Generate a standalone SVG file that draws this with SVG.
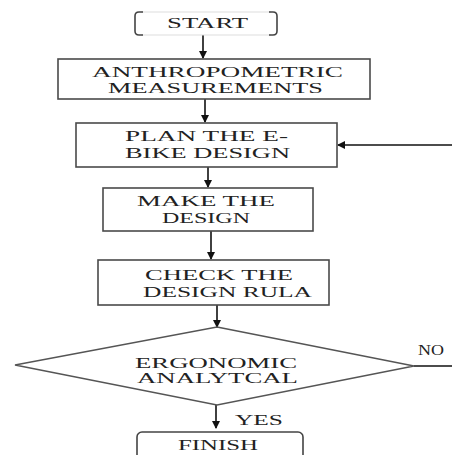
<svg xmlns="http://www.w3.org/2000/svg" width="452" height="455" viewBox="0 0 452 455">
<defs>
<marker id="ah" markerWidth="8" markerHeight="8" refX="7" refY="4" orient="auto" markerUnits="userSpaceOnUse">
<path d="M0,0 L8,4 L0,8 Z" fill="#111"/>
</marker>
<style>
.box{fill:#fff;stroke:#4a4a4a;stroke-width:1.6}
.t{font-family:"Liberation Serif","Times New Roman",serif;font-size:14px;fill:#222}
.c{fill:none;stroke:#111;stroke-width:1.6}
</style>
</defs>
<rect width="452" height="455" fill="#fff"/>
<g id="connectors">
<line class="c" x1="203" y1="35" x2="203" y2="58" marker-end="url(#ah)"/>
<line class="c" x1="205" y1="99" x2="205" y2="122" marker-end="url(#ah)"/>
<line class="c" x1="208" y1="167" x2="208" y2="187" marker-end="url(#ah)"/>
<line class="c" x1="211" y1="231" x2="211" y2="259" marker-end="url(#ah)"/>
<line class="c" x1="217" y1="305" x2="217" y2="327" marker-end="url(#ah)"/>
<line class="c" x1="216" y1="405" x2="216" y2="428" marker-end="url(#ah)"/>
<line class="c" x1="452" y1="145" x2="338" y2="145" marker-end="url(#ah)"/>
<line class="c" x1="414" y1="366" x2="452" y2="366" stroke="#333"/>
<text class="t" x="418" y="355" textLength="26" lengthAdjust="spacingAndGlyphs" font-size="12">NO</text>
<text class="t" x="235" y="425" textLength="48" lengthAdjust="spacingAndGlyphs">YES</text>
</g>
<g id="start">
<line x1="141" y1="12" x2="271" y2="12" stroke="#ddd" stroke-width="1"/>
<line x1="141" y1="35" x2="271" y2="35" stroke="#ddd" stroke-width="1"/>
<path d="M143,12 L139,12 Q135,12 135,16 L135,31 Q135,35 139,35 L143,35" fill="none" stroke="#444" stroke-width="1.6"/>
<path d="M269,12 L273,12 Q277,12 277,16 L277,31 Q277,35 273,35 L269,35" fill="none" stroke="#444" stroke-width="1.6"/>
<text class="t" x="167" y="28" textLength="81" lengthAdjust="spacingAndGlyphs">START</text>
</g>
<g id="anthropometric">
<rect class="box" x="58" y="59" width="312" height="40"/>
<text class="t" x="92" y="77" textLength="251" lengthAdjust="spacingAndGlyphs">ANTHROPOMETRIC</text>
<text class="t" x="108" y="93" textLength="215" lengthAdjust="spacingAndGlyphs">MEASUREMENTS</text>
</g>
<g id="plan">
<rect class="box" x="76" y="123" width="261" height="44"/>
<text class="t" x="125" y="141" textLength="163" lengthAdjust="spacingAndGlyphs">PLAN THE E-</text>
<text class="t" x="125" y="158" textLength="165" lengthAdjust="spacingAndGlyphs">BIKE DESIGN</text>
</g>
<g id="make">
<rect class="box" x="103" y="188" width="210" height="43"/>
<text class="t" x="137" y="206" textLength="138" lengthAdjust="spacingAndGlyphs">MAKE THE</text>
<text class="t" x="162" y="223" textLength="88" lengthAdjust="spacingAndGlyphs">DESIGN</text>
</g>
<g id="check">
<rect class="box" x="98" y="260" width="231" height="45"/>
<text class="t" x="145" y="280" textLength="148" lengthAdjust="spacingAndGlyphs">CHECK THE</text>
<text class="t" x="143" y="297" textLength="169" lengthAdjust="spacingAndGlyphs">DESIGN RULA</text>
</g>
<g id="ergonomic">
<polygon points="217,327 414,366 217,405 15,365" fill="#fff" stroke="#555" stroke-width="1.4"/>
<text class="t" x="135" y="368" textLength="162" lengthAdjust="spacingAndGlyphs">ERGONOMIC</text>
<text class="t" x="137" y="383" textLength="161" lengthAdjust="spacingAndGlyphs">ANALYTCAL</text>
</g>
<g id="finish">
<rect x="137" y="432" width="166" height="40" rx="5" fill="#fff" stroke="#444" stroke-width="1.6"/>
<text class="t" x="178" y="450" textLength="80" lengthAdjust="spacingAndGlyphs">FINISH</text>
</g>
</svg>
